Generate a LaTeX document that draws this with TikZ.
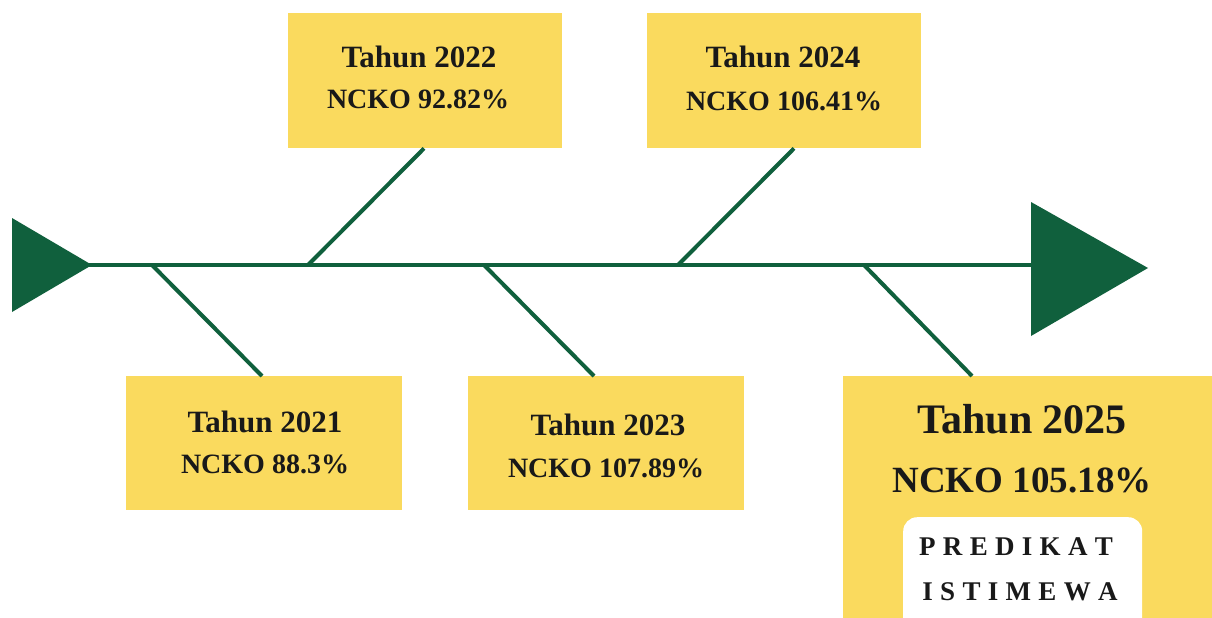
\documentclass[tikz,border=0pt]{standalone}
\usepackage{fontspec}
\setmainfont{Liberation Serif}
\definecolor{fgreen}{HTML}{10603D}
\definecolor{fyellow}{HTML}{FADA5E}
\begin{document}
\begin{tikzpicture}[x=1pt,y=-1pt,
  box/.style={fill=fyellow, draw=none, inner sep=0pt, anchor=north west},
  yr/.style={anchor=base, inner sep=0pt, font=\fontsize{31}{31}\selectfont\bfseries, text=black!90},
  val/.style={anchor=base, inner sep=0pt, font=\fontsize{28}{28}\selectfont\bfseries, text=black!90},
  yrbig/.style={anchor=base, inner sep=0pt, font=\fontsize{42}{42}\selectfont\bfseries, text=black!90},
  valbig/.style={anchor=base, inner sep=0pt, font=\fontsize{37}{37}\selectfont\bfseries, text=black!90},
  pred/.style={anchor=base, inner sep=0pt, font=\fontsize{27}{27}\selectfont\bfseries, text=black!90},
  bone/.style={draw=fgreen, line width=4pt},
  head/.style={fill=fgreen, draw=none}]
\useasboundingbox (0,0) rectangle (1212,618);
\clip (0,0) rectangle (1212,618);
\fill[white] (0,0) rectangle (1212,618);

% boxes
\node[box, minimum width=276pt, minimum height=134pt] (b21) at (126,376) {};
\node[box, minimum width=274pt, minimum height=135pt] (b22) at (288,13) {};
\node[box, minimum width=276pt, minimum height=134pt] (b23) at (468,376) {};
\node[box, minimum width=274pt, minimum height=135pt] (b24) at (647,13) {};
\node[box, minimum width=370pt, minimum height=260pt] (b25) at (843,376) {};
\node[box, fill=white, rounded corners=14pt, minimum width=239pt, minimum height=120pt] (w25) at (903,517) {};

% spine and heads
\coordinate (sL) at (88,265);
\coordinate (sR) at (1034,265);
\fill[head] (12,218) -- (92,265) -- (12,312) -- cycle;
\fill[head] (1031,202) -- (1148,268) -- (1031,336) -- cycle;
\draw[bone] (sL) -- (sR);

% branch points on spine
\coordinate (p21) at (152,265);
\coordinate (p22) at (308,265);
\coordinate (p23) at (484,265);
\coordinate (p24) at (678,265);
\coordinate (p25) at (864,265);

\draw[bone] (p21) -- ([xshift=136pt]b21.north west);
\draw[bone] (p22) -- ([xshift=136pt]b22.south west);
\draw[bone] (p23) -- ([xshift=126pt]b23.north west);
\draw[bone] (p24) -- ([xshift=147pt]b24.south west);
\draw[bone] (p25) -- ([xshift=129pt]b25.north west);

% texts
\node[yr] (t21) at (265,432) {Tahun 2021};
\node[val] (v21) at (265,473) {NCKO 88.3\%};
\node[yr] (t22) at (419,67) {Tahun 2022};
\node[val] (v22) at (418,108) {NCKO 92.82\%};
\node[yr] (t23) at (608,435) {Tahun 2023};
\node[val] (v23) at (606,477) {NCKO 107.89\%};
\node[yr] (t24) at (783,67) {Tahun 2024};
\node[val] (v24) at (784,110) {NCKO 106.41\%};
\node[yrbig] (t25) at (1022,433) {Tahun 2025};
\node[valbig] (v25) at (1022,492) {NCKO 105.18\%};
\node[pred] (pr1) at (1016,555) {P\kern7.3pt R\kern7.3pt E\kern7.3pt D\kern7.3pt I\kern7.3pt K\kern7.3pt A\kern7.3pt T};
\node[pred] (pr2) at (1020,600) {I\kern7.3pt S\kern7.3pt T\kern7.3pt I\kern7.3pt M\kern7.3pt E\kern7.3pt W\kern7.3pt A};
\end{tikzpicture}
\end{document}
